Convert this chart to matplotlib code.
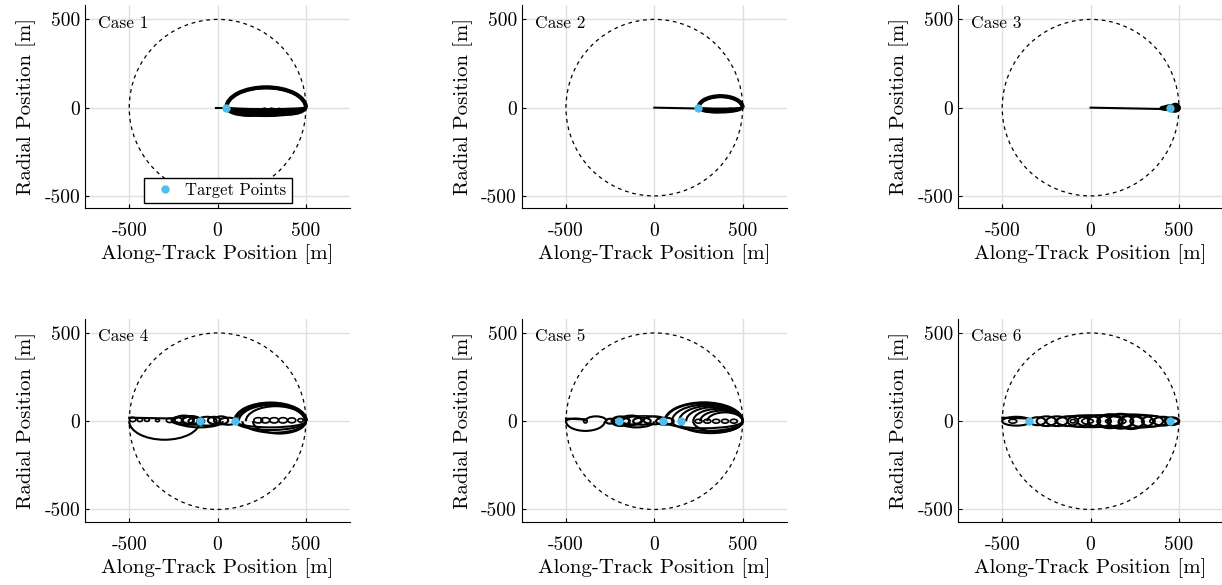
import matplotlib.pyplot as plt
from matplotlib.patches import Arc, Circle

plt.rcParams['font.family'] = 'serif'
plt.rcParams['font.serif'] = ['cmr10']
plt.rcParams['mathtext.fontset'] = 'cm'
plt.rcParams['axes.formatter.use_mathtext'] = True

KOZ_R = 500
TICKS = [-500, 0, 500]
TICK_LABELS = ['-500', '0', '500']
TARGET_COLOR = '#4DBEEE'

# straight approach legs (x list, y list)
case1_leg = ([-10, 50], [0, 0])
case2_leg = ([0, 250], [0, -5])
case3_leg = ([0, 420], [0, -8])
case4_leg = ([-500, -250], [20, 15])
case5_leg = ([-500, -390], [15, 10])
case6_leg = ([-500, -350], [20, 15])

# loops: (centre x, centre y, width, height, theta1, theta2, linewidth)
case1_arcs = [
    (275, 0, 450, 230, 0, 180, 3.0),
    (275, 0, 445, 220, 0, 180, 1.5),
    (275, 0, 450, 20, 180, 360, 2.0),
    (275, 0, 450, 35, 180, 360, 2.0),
    (275, 0, 450, 50, 180, 360, 2.0),
    (275, 0, 450, 70, 180, 360, 2.0),
    (180, 0, 260, 90, 180, 360, 2.0),
    (200, 0, 300, 80, 180, 360, 1.5),
    (160, 0, 220, 70, 180, 360, 1.5),
    (380, 0, 240, 60, 180, 360, 2.0),
    (400, 0, 200, 80, 180, 360, 1.5),
    (275, 0, 450, 95, 180, 360, 1.5),
]
case2_arcs = [
    (375, 0, 250, 130, 0, 180, 3.0),
    (375, 0, 245, 122, 0, 180, 1.5),
    (375, 0, 250, 15, 180, 360, 2.0),
    (375, 0, 250, 35, 180, 360, 2.0),
    (340, 0, 180, 50, 180, 360, 2.0),
    (375, 0, 250, 55, 180, 360, 1.5),
]
case3_arcs = [
    (460, 0, 80, 20, 0, 360, 2.5),
    (470, -3, 60, 30, 0, 360, 2.5),
    (450, -3, 100, 14, 0, 360, 2.5),
    (480, 0, 40, 36, 0, 360, 2.5),
]
case4_arcs = [
    (-300, 0, 400, 210, 180, 360, 1.5),
    (-480, 10, 35, 25, 0, 360, 1.2),
    (-440, 8, 30, 20, 0, 360, 1.2),
    (-400, 8, 28, 18, 0, 360, 1.2),
    (-340, 5, 22, 15, 0, 360, 1.2),
    (-270, 5, 40, 25, 0, 360, 1.2),
    (-230, 5, 60, 35, 0, 360, 1.5),
    (-190, 5, 110, 50, 0, 360, 2.0),
    (-150, 5, 100, 45, 0, 360, 2.0),
    (-120, 0, 90, 40, 0, 360, 1.5),
    (-60, 0, 110, 50, 0, 360, 1.5),
    (-20, 5, 70, 40, 0, 360, 1.5),
    (20, 5, 80, 45, 0, 360, 1.5),
    (60, 0, 100, 40, 0, 360, 1.5),
    (-100, 0, 260, 70, 180, 360, 1.5),
    (300, 0, 400, 200, 0, 180, 3.0),
    (310, 0, 380, 185, 0, 180, 1.5),
    (330, 0, 340, 170, 0, 180, 1.5),
    (230, 5, 50, 30, 0, 360, 1.2),
    (270, 5, 50, 30, 0, 360, 1.2),
    (320, 5, 50, 30, 0, 360, 1.2),
    (370, 5, 50, 30, 0, 360, 1.2),
    (420, 5, 45, 28, 0, 360, 1.2),
    (470, 5, 30, 20, 0, 360, 1.2),
    (300, 0, 400, 70, 180, 360, 1.5),
    (300, 0, 400, 100, 180, 360, 1.5),
    (320, 0, 360, 130, 180, 360, 1.5),
    (350, 0, 300, 140, 180, 360, 1.5),
]
case5_arcs = [
    (-390, 0, 220, 110, 180, 360, 1.5),
    (-330, 0, 120, 55, 0, 180, 1.5),
    (-445, 0, 110, 30, 0, 180, 1.5),
    (-390, 0, 20, 20, 0, 360, 1.2),
    (-250, 0, 50, 28, 0, 360, 1.5),
    (-190, 0, 100, 50, 0, 360, 2.0),
    (-130, 5, 120, 50, 0, 360, 2.0),
    (-70, 0, 100, 40, 0, 360, 1.5),
    (0, 5, 120, 45, 0, 360, 1.5),
    (60, 0, 100, 40, 0, 360, 1.5),
    (-100, 0, 200, 70, 180, 360, 1.5),
    (-60, 0, 240, 60, 0, 180, 1.2),
    (280, 0, 440, 210, 0, 180, 2.0),
    (300, 0, 400, 190, 0, 180, 1.5),
    (320, 0, 360, 175, 0, 180, 1.5),
    (340, 0, 320, 160, 0, 180, 1.5),
    (360, 0, 280, 140, 0, 180, 1.5),
    (380, 0, 240, 120, 0, 180, 1.5),
    (400, 0, 200, 100, 0, 180, 1.5),
    (250, 0, 40, 22, 0, 360, 1.2),
    (300, 0, 40, 22, 0, 360, 1.2),
    (350, 0, 40, 22, 0, 360, 1.2),
    (400, 0, 40, 22, 0, 360, 1.2),
    (450, 0, 40, 22, 0, 360, 1.2),
    (280, 0, 440, 80, 180, 360, 1.5),
    (300, 0, 400, 110, 180, 360, 1.5),
    (320, 0, 360, 135, 180, 360, 1.5),
    (360, 0, 280, 120, 180, 360, 1.5),
]
case6_arcs = [
    (-420, 0, 160, 50, 0, 360, 1.5),
    (-440, 0, 45, 22, 0, 360, 1.2),
    (-300, 0, 90, 45, 0, 360, 1.5),
    (-250, 0, 110, 55, 0, 360, 1.5),
    (-190, 0, 120, 55, 0, 360, 1.5),
    (-130, 0, 120, 55, 0, 360, 1.5),
    (-70, 0, 120, 60, 0, 360, 1.5),
    (-10, 0, 130, 60, 0, 360, 1.5),
    (50, 0, 130, 65, 0, 360, 1.5),
    (110, 0, 140, 75, 0, 360, 2.0),
    (170, 0, 140, 80, 0, 360, 2.0),
    (230, -5, 140, 75, 0, 360, 2.0),
    (290, 0, 130, 65, 0, 360, 1.5),
    (350, 0, 120, 60, 0, 360, 1.5),
    (410, 0, 110, 50, 0, 360, 1.5),
    (460, 0, 80, 40, 0, 360, 2.0),
    (0, 0, 400, 70, 0, 360, 1.2),
    (200, 0, 500, 80, 0, 360, 1.2),
    (-100, 0, 30, 20, 0, 360, 1.2),
    (0, 0, 30, 20, 0, 360, 1.2),
    (100, 0, 30, 20, 0, 360, 1.2),
    (350, 0, 30, 20, 0, 360, 1.2),
]

case1_targets = [50]
case2_targets = [250]
case3_targets = [450]
case4_targets = [-100, 100]
case5_targets = [-200, 50, 150]
case6_targets = [-350, 450]

cases = [
    ('Case 1', case1_leg, case1_arcs, case1_targets),
    ('Case 2', case2_leg, case2_arcs, case2_targets),
    ('Case 3', case3_leg, case3_arcs, case3_targets),
    ('Case 4', case4_leg, case4_arcs, case4_targets),
    ('Case 5', case5_leg, case5_arcs, case5_targets),
    ('Case 6', case6_leg, case6_arcs, case6_targets),
]

fig = plt.figure(figsize=(12.22, 5.85), dpi=100)
lefts = [0.0696, 0.427, 0.784]
bottoms = [0.644, 0.108]
w, h = 0.2169, 0.347

for i, (name, leg, arcs, targets) in enumerate(cases):
    ax = fig.add_axes([lefts[i % 3], bottoms[i // 3], w, h])
    ax.add_patch(Circle((0, 0), KOZ_R, fill=False, ls=(0, (3, 3)), lw=0.9, color='k'))
    ax.plot(leg[0], leg[1], color='k', lw=1.5)
    for cx, cy, aw, ah, t1, t2, lw in arcs:
        ax.add_patch(Arc((cx, cy), aw, ah, theta1=t1, theta2=t2, color='k', lw=lw))
    ax.plot(targets, [0] * len(targets), 'o', color=TARGET_COLOR, ms=5,
            ls='none', label='Target Points', zorder=5)
    ax.set_xlim(-750, 750)
    ax.set_ylim(-570, 580)
    ax.set_xticks(TICKS)
    ax.set_xticklabels(TICK_LABELS)
    ax.set_yticks(TICKS)
    ax.set_yticklabels(TICK_LABELS)
    ax.grid(True, color='#e0e0e0', lw=1)
    ax.set_axisbelow(True)
    for s in ['top', 'right']:
        ax.spines[s].set_visible(False)
    ax.tick_params(direction='in', length=3, labelsize=14)
    ax.tick_params(axis='x', pad=10)
    ax.set_xlabel('Along-Track Position [m]', fontsize=15, labelpad=3)
    ax.set_ylabel('Radial Position [m]', fontsize=15, labelpad=6)
    ax.text(0.05, 0.95, name, transform=ax.transAxes, fontsize=12.5, va='top')
    if i == 0:
        ax.legend(loc='lower center', fontsize=12, fancybox=False, edgecolor='k',
                  framealpha=1, borderpad=0.3, handletextpad=0.2, borderaxespad=0.3)

fig.savefig('out.png', dpi=100)
